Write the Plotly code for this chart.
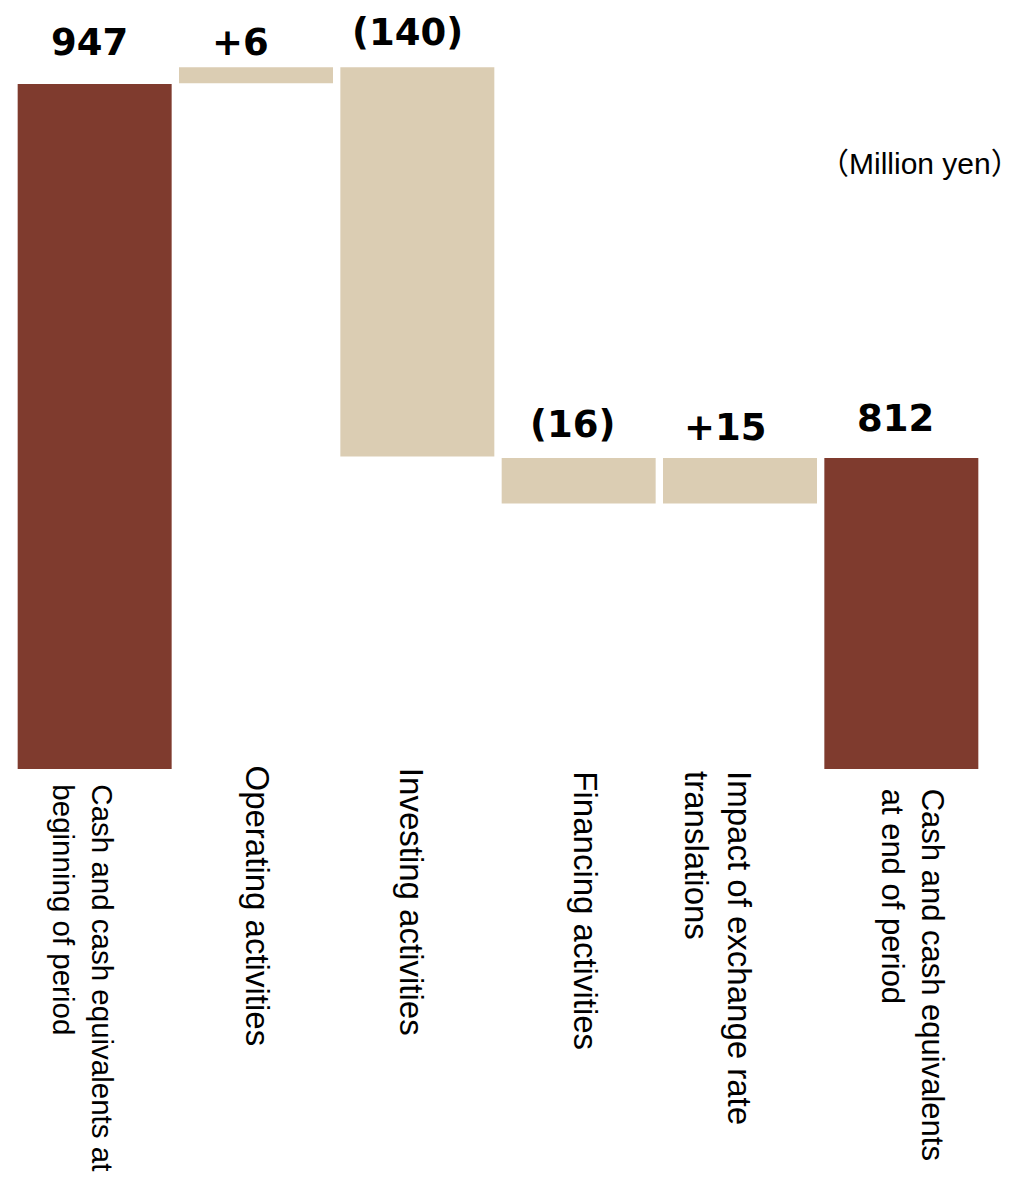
import plotly.graph_objects as go

# ---- data ----
categories = [
    "Cash and cash equivalents at<br>beginning of period",
    "Operating activities",
    "Investing activities",
    "Financing activities",
    "Impact of exchange rate<br>translations",
    "Cash and cash equivalents<br>at end of period",
]
value_labels = ["947", "+6", "(140)", "(16)", "+15", "812"]
bar_kind = ["total", "change", "change", "change", "change", "total"]
# bar extents as drawn in the (illustrative, not-to-scale) picture,
# expressed in the units of the first bar (947)
drawn_bottom = [0, 948, 432, 367, 367, 0]
drawn_top = [947, 970, 970, 430, 430, 430]
unit_label = "（Million yen）"

# ---- styling / layout ----
colors = {"total": "#7F3B2E", "change": "#DBCDB3"}
value_shift = [(-5.5, 41), (-16, 25), (-9.5, 35), (-6, 33), (-15, 30.5), (-6, 39)]
label_shift = [(-11.5, -13), (1, 6), (-5.2, 3), (7, -0.5), (-21.6, -0.5), (12, -18)]
label_size = [29.5, 33, 33, 33, 33, 31]

heights = [t - b for t, b in zip(drawn_top, drawn_bottom)]

fig = go.Figure(
    go.Bar(
        x=categories,
        y=heights,
        base=drawn_bottom,
        marker=dict(color=[colors[k] for k in bar_kind], line=dict(width=0)),
        hoverinfo="skip",
    )
)

annotations = []
for cat, top, txt, (dx, dy) in zip(categories, drawn_top, value_labels, value_shift):
    annotations.append(dict(
        x=cat, y=top, xref="x", yref="y", text=txt, showarrow=False,
        xanchor="center", yanchor="middle", xshift=dx, yshift=dy,
        font=dict(family="DejaVu Sans", size=37, color="#000000", weight=700),
    ))
for cat, (dx, dy), sz in zip(categories, label_shift, label_size):
    annotations.append(dict(
        x=cat, y=0, xref="x", yref="y", text=cat, showarrow=False,
        textangle=90, align="left",
        xanchor="center", yanchor="top", xshift=dx, yshift=dy,
        font=dict(family="Liberation Sans, Arial", size=sz, color="#000000"),
    ))
annotations.append(dict(
    x=1, y=0.796, xref="paper", yref="paper", text=unit_label, showarrow=False,
    xanchor="right", yanchor="middle", xshift=41,
    font=dict(family="Liberation Sans, Noto Sans CJK JP", size=30, color="#000000"),
))

fig.update_layout(
    width=1016, height=1179,
    margin=dict(l=6, r=42, t=0, b=418, autoexpand=False),
    paper_bgcolor="white", plot_bgcolor="white",
    bargap=0.0455,
    showlegend=False,
    xaxis=dict(visible=False, range=[-0.5, 5.5]),
    yaxis=dict(visible=False, range=[0, 1052]),
    annotations=annotations,
)

fig.write_html("out.html")
